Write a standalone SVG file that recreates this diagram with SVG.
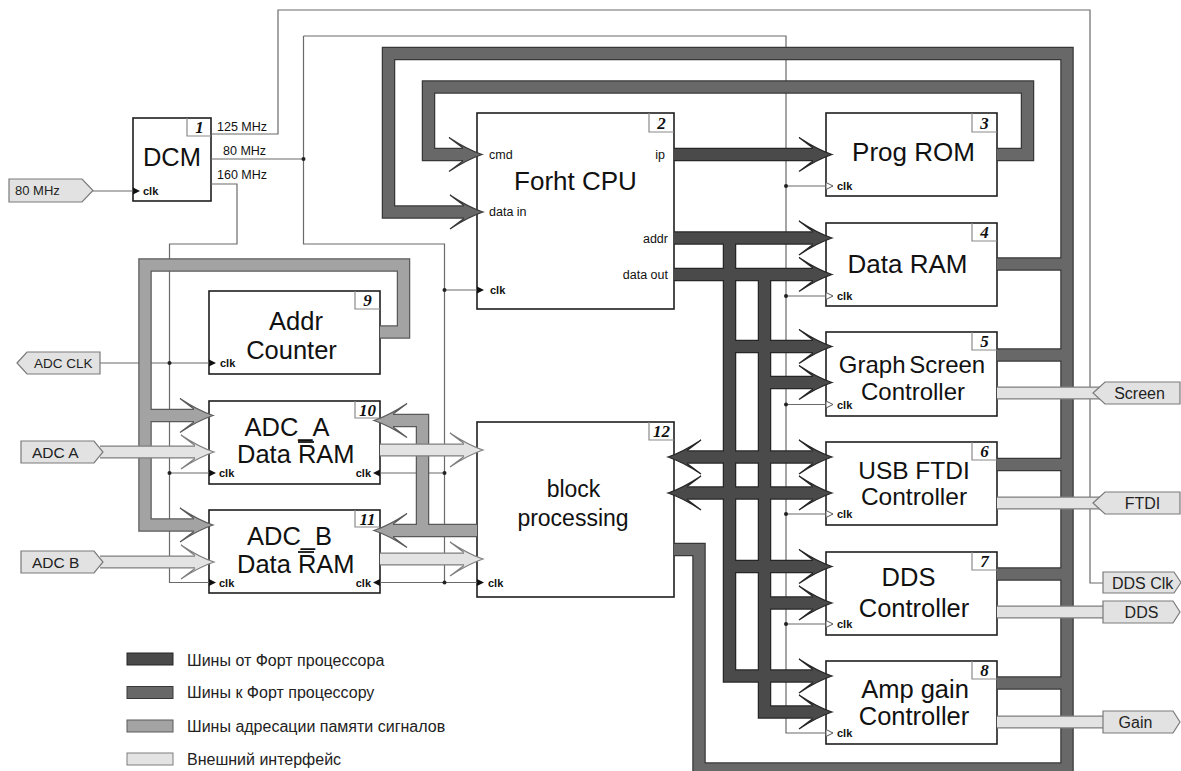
<svg xmlns="http://www.w3.org/2000/svg" width="1181" height="771" viewBox="0 0 1181 771">
<defs>
<path id="ah" d="M-19,-6.6 L-33,-17 Q-15,-5 0,0 Q-15,5 -33,17 L-19,6.6"/>
</defs>
<style>
.box{fill:#fff;stroke:#1e1e1e;stroke-width:1.6}
.nbl{fill:none;stroke:#8a8a8a;stroke-width:1.2}
.num{font-family:"Liberation Serif",serif;font-style:italic;font-weight:bold;font-size:17px;text-anchor:middle;fill:#111}
.big{font-family:"Liberation Sans",Arial,sans-serif;font-size:25.5px;text-anchor:middle;fill:#111}
.mid{font-family:"Liberation Sans",Arial,sans-serif;font-size:24.5px;text-anchor:middle;fill:#111}
.bp{font-family:"Liberation Sans",Arial,sans-serif;font-size:23px;text-anchor:middle;fill:#111}
.sm{font-family:"Liberation Sans",Arial,sans-serif;font-size:12.5px;fill:#111}
.end{text-anchor:end}
.clk{font-family:"Liberation Sans",Arial,sans-serif;font-size:11px;font-weight:bold;fill:#111}
.tag{fill:#e2e2e2;stroke:#7a7a7a;stroke-width:1.2}
.tt{font-family:"Liberation Sans",Arial,sans-serif;font-size:15.5px;fill:#222}
.thin{fill:none;stroke:#6a6a6a;stroke-width:1.2}
.dot{fill:#222}
.tri{fill:#111}
.otri{fill:#fff;stroke:#555;stroke-width:1}
.o1{fill:none;stroke:#262626;stroke-width:13.5}
.f1{fill:none;stroke:#4a4a4a;stroke-width:11}
.a1{fill:#4a4a4a;stroke:#262626;stroke-width:1.3}
.o2{fill:none;stroke:#383838;stroke-width:13.5}
.f2{fill:none;stroke:#686868;stroke-width:11}
.a2{fill:#686868;stroke:#383838;stroke-width:1.3}
.o3{fill:none;stroke:#5a5a5a;stroke-width:13.5}
.f3{fill:none;stroke:#a3a3a3;stroke-width:11}
.a3{fill:#a3a3a3;stroke:#5a5a5a;stroke-width:1.3}
.o4{fill:none;stroke:#7e7e7e;stroke-width:13}
.f4{fill:none;stroke:#e3e3e3;stroke-width:10.6}
.a4{fill:#e3e3e3;stroke:#7e7e7e;stroke-width:1.2}
.lg{font-family:"Liberation Sans",Arial,sans-serif;font-size:16px;fill:#222}
</style>
<rect width="1181" height="771" fill="#fff"/>

<g id="dcm">
<rect class="box" x="133" y="118" width="78" height="83"/>
<path class="nbl" d="M187,118 V136 H211"/>
<text class="num" x="199.5" y="133">1</text>
<text class="big" x="172" y="166">DCM</text>
<polygon class="tri" points="133,187.5 140,191 133,194.5"/>
<text class="clk" x="143" y="195">clk</text>
<text class="sm" x="217" y="130.5">125 MHz</text>
<text class="sm" x="223" y="155">80 MHz</text>
<text class="sm" x="217" y="179">160 MHz</text>
</g>

<g id="cpu">
<rect class="box" x="477" y="113" width="197" height="196"/>
<path class="nbl" d="M649,113 V132 H674"/>
<text class="num" x="661.5" y="129">2</text>
<text class="big" x="575.5" y="190" style="font-size:26px">Forht CPU</text>
<text class="sm" x="489" y="159">cmd</text>
<text class="sm" x="489" y="216">data in</text>
<text class="sm end" x="665" y="159">ip</text>
<text class="sm end" x="668" y="243">addr</text>
<text class="sm end" x="668" y="279">data out</text>
<polygon class="tri" points="477,286.5 484,290 477,293.5"/>
<text class="clk" x="490" y="294">clk</text>
</g>

<g id="progrom">
<rect class="box" x="826" y="113" width="171" height="83"/>
<path class="nbl" d="M972,113 V132 H997"/>
<text class="num" x="984.5" y="129">3</text>
<text class="big" x="913.5" y="161" style="font-size:26px">Prog ROM</text>
<polygon class="otri" points="826,182.5 833,186 826,189.5"/>
<text class="clk" x="837" y="190">clk</text>
</g>

<g id="dataram">
<rect class="box" x="826" y="223" width="171" height="83"/>
<path class="nbl" d="M972,223 V241 H997"/>
<text class="num" x="984.5" y="238">4</text>
<text class="big" x="907.5" y="273" style="font-size:26px">Data RAM</text>
<polygon class="otri" points="826,292.5 833,296 826,299.5"/>
<text class="clk" x="837" y="300">clk</text>
</g>

<g id="graph">
<rect class="box" x="826" y="332" width="171" height="84"/>
<path class="nbl" d="M972,332 V350 H997"/>
<text class="num" x="984.5" y="347">5</text>
<text class="mid" x="912" y="373" style="word-spacing:-3px;font-size:24px">Graph Screen</text>
<text class="mid" x="913" y="400" style="font-size:24px">Controller</text>
<polygon class="otri" points="826,401 833,404.5 826,408"/>
<text class="clk" x="837" y="408.5">clk</text>
</g>

<g id="usb">
<rect class="box" x="826" y="442" width="171" height="83"/>
<path class="nbl" d="M972,442 V460 H997"/>
<text class="num" x="984.5" y="457">6</text>
<text class="mid" x="914" y="479">USB FTDI</text>
<text class="mid" x="914" y="505">Controller</text>
<polygon class="otri" points="826,510.5 833,514 826,517.5"/>
<text class="clk" x="837" y="518">clk</text>
</g>

<g id="dds">
<rect class="box" x="826" y="552" width="171" height="83"/>
<path class="nbl" d="M972,552 V570 H997"/>
<text class="num" x="984.5" y="567">7</text>
<text class="big" x="908.5" y="586">DDS</text>
<text class="big" x="914" y="617">Controller</text>
<polygon class="otri" points="826,620.5 833,624 826,627.5"/>
<text class="clk" x="837" y="628">clk</text>
</g>

<g id="amp">
<rect class="box" x="826" y="661" width="171" height="83"/>
<path class="nbl" d="M972,661 V679 H997"/>
<text class="num" x="984.5" y="676">8</text>
<text class="big" x="915" y="698">Amp gain</text>
<text class="big" x="914" y="725">Controller</text>
<polygon class="otri" points="826,729.5 833,733 826,736.5"/>
<text class="clk" x="837" y="737">clk</text>
</g>

<g id="addrcounter">
<rect class="box" x="209" y="291" width="171" height="83"/>
<path class="nbl" d="M355,291 V309 H380"/>
<text class="num" x="367.5" y="306">9</text>
<text class="big" x="296" y="330">Addr</text>
<text class="big" x="291.5" y="359">Counter</text>
<polygon class="tri" points="209,359.5 216,363 209,366.5"/>
<text class="clk" x="220" y="367">clk</text>
</g>

<g id="adca">
<rect class="box" x="209" y="401" width="171" height="83"/>
<path class="nbl" d="M355,401 V418 H380"/>
<text class="num" x="367.5" y="416">10</text>
<text class="big" x="287" y="436">ADC_A</text>
<text class="big" x="237" y="463" style="text-anchor:start">Data RAM</text>
<line x1="298" y1="442" x2="314" y2="442" stroke="#111" stroke-width="1.8"/>
<polygon class="tri" points="209,469.5 216,473 209,476.5"/>
<text class="clk" x="219" y="477">clk</text>
<polygon class="tri" points="380,469.5 373,473 380,476.5"/>
<text class="clk end" x="371" y="477">clk</text>
</g>

<g id="adcb">
<rect class="box" x="209" y="510" width="171" height="83"/>
<path class="nbl" d="M355,510 V527 H380"/>
<text class="num" x="367.5" y="525">11</text>
<text class="big" x="289.5" y="545">ADC_B</text>
<text class="big" x="237" y="573" style="text-anchor:start">Data RAM</text>
<line x1="298" y1="552" x2="314" y2="552" stroke="#111" stroke-width="1.8"/>
<polygon class="tri" points="209,579 216,582.5 209,586"/>
<text class="clk" x="219" y="586.5">clk</text>
<polygon class="tri" points="380,579 373,582.5 380,586"/>
<text class="clk end" x="371" y="586.5">clk</text>
</g>

<g id="blockproc">
<rect class="box" x="477" y="422" width="197" height="175"/>
<path class="nbl" d="M649,422 V440 H674"/>
<text class="num" x="661.5" y="437">12</text>
<text class="bp" x="573.5" y="497">block</text>
<text class="bp" x="573" y="526">processing</text>
<polygon class="tri" points="477,579 484,582.5 477,586"/>
<text class="clk" x="488" y="586.5">clk</text>
</g>

<g id="connectors">
<path class="thin" d="M211,134 H278 V10 H1090 V583 H1103"/>
<path class="thin" d="M211,159 H303.5 M303.5,36 V244 H444.5 V582.5 H477 M303.5,36 H786 V733 H826 M444.5,290 H477 M444.5,473 H380 M444.5,582.5 H380 M786,186 H826 M786,296 H826 M786,404.5 H826 M786,514 H826 M786,624 H826"/>
<path class="thin" d="M211,184 H237 V244 H169.5 V582.5 H209 M100,363 H209 M169.5,473 H209 M93,191 H133"/>
<g class="dot">
<circle cx="303.5" cy="159" r="2"/><circle cx="444.5" cy="290" r="2"/><circle cx="444.5" cy="473" r="2"/><circle cx="444.5" cy="582.5" r="2"/>
<circle cx="169.5" cy="363" r="2"/><circle cx="169.5" cy="473" r="2"/>
<circle cx="786" cy="186" r="2"/><circle cx="786" cy="296" r="2"/><circle cx="786" cy="404.5" r="2"/><circle cx="786" cy="514" r="2"/><circle cx="786" cy="624" r="2"/>
</g>

<!-- buses to CPU -->
<path class="o2" d="M997,154.5 H1027.5 V87 H428.5 V154.5 H464 M674,549.5 H699 V769 H1067 V53.5 H388.5 V212 H464 M997,264 H1067 M997,355 H1067 M997,464.5 H1067 M997,574 H1067 M997,683 H1067"/>
<path class="f2" d="M997,154.5 H1027.5 V87 H428.5 V154.5 H464 M674,549.5 H699 V769 H1067 V53.5 H388.5 V212 H464 M997,264 H1067 M997,355 H1067 M997,464.5 H1067 M997,574 H1067 M997,683 H1067"/>
<use href="#ah" class="a2" transform="translate(482,154.5)"/>
<use href="#ah" class="a2" transform="translate(483,212)"/>

<!-- buses from CPU -->
<path class="o1" d="M674,154.5 H814 M674,238 H814 M674,274.5 H814 M729.5,238 V676 H814 M764.5,274.5 V712 H814 M729.5,346.5 H814 M764.5,382.5 H814 M686,457 H814 M686,493 H814 M729.5,566.5 H814 M764.5,603 H814"/>
<path class="f1" d="M674,154.5 H814 M674,238 H814 M674,274.5 H814 M729.5,238 V676 H814 M764.5,274.5 V712 H814 M729.5,346.5 H814 M764.5,382.5 H814 M686,457 H814 M686,493 H814 M729.5,566.5 H814 M764.5,603 H814"/>
<use href="#ah" class="a1" transform="translate(832,154.5)"/>
<use href="#ah" class="a1" transform="translate(832,238)"/>
<use href="#ah" class="a1" transform="translate(832,274.5)"/>
<use href="#ah" class="a1" transform="translate(832,346.5)"/>
<use href="#ah" class="a1" transform="translate(832,382.5)"/>
<use href="#ah" class="a1" transform="translate(832,457)"/>
<use href="#ah" class="a1" transform="translate(832,493)"/>
<use href="#ah" class="a1" transform="translate(668,457) rotate(180)"/>
<use href="#ah" class="a1" transform="translate(668,493) rotate(180)"/>
<use href="#ah" class="a1" transform="translate(832,566.5)"/>
<use href="#ah" class="a1" transform="translate(832,603)"/>
<use href="#ah" class="a1" transform="translate(832,676)"/>
<use href="#ah" class="a1" transform="translate(832,712)"/>

<!-- signal memory addressing buses -->
<path class="o3" d="M380,332 H403.5 V265 H145 V525 H195 M145,415.5 H195 M477,530.5 H422.5 V420.5 H392 M422.5,530.5 H392"/>
<path class="f3" d="M380,332 H403.5 V265 H145 V525 H195 M145,415.5 H195 M477,530.5 H422.5 V420.5 H392 M422.5,530.5 H392"/>
<use href="#ah" class="a3" transform="translate(213,415.5)"/>
<use href="#ah" class="a3" transform="translate(213,525)"/>
<use href="#ah" class="a3" transform="translate(374,420.5) rotate(180)"/>
<use href="#ah" class="a3" transform="translate(374,530.5) rotate(180)"/>

<!-- external interface buses -->
<path class="o4" d="M100,452 H195 M100,562 H195 M380,450 H465 M380,559 H465 M997,393 H1100 M997,503 H1100 M997,612 H1106 M997,722 H1106"/>
<path class="f4" d="M100,452 H195 M100,562 H195 M380,450 H465 M380,559 H465 M997,393 H1100 M997,503 H1100 M997,612 H1106 M997,722 H1106"/>
<use href="#ah" class="a4" transform="translate(214,452)"/>
<use href="#ah" class="a4" transform="translate(214,562)"/>
<use href="#ah" class="a4" transform="translate(483,450)"/>
<use href="#ah" class="a4" transform="translate(483,559)"/>
</g>

<g id="tag-80mhz">
<polygon class="tag" points="9,179 82,179 93,190.5 82,202 9,202"/>
<text class="tt" x="15" y="195" style="font-size:13px">80 MHz</text>
</g>
<g id="tag-adcclk">
<polygon class="tag" points="17,363 27,352 100,352 100,374 27,374"/>
<text class="tt" x="34" y="368" style="font-size:13.5px">ADC CLK</text>
</g>
<g id="tag-adca">
<polygon class="tag" points="21,441 94,441 103,452 94,463 21,463"/>
<text class="tt" x="32" y="457.5">ADC A</text>
</g>
<g id="tag-adcb">
<polygon class="tag" points="21,551 94,551 103,562 94,573 21,573"/>
<text class="tt" x="32" y="567.5">ADC B</text>
</g>
<g id="tag-screen">
<polygon class="tag" points="1093,393 1105,382 1180,382 1180,404 1105,404"/>
<text class="tt" x="1139.5" y="398.5" style="text-anchor:middle;font-size:16px">Screen</text>
</g>
<g id="tag-ftdi">
<polygon class="tag" points="1093,503 1105,492 1180,492 1180,514 1105,514"/>
<text class="tt" x="1142.5" y="508.5" style="text-anchor:middle;font-size:16px">FTDI</text>
</g>
<g id="tag-ddsclk">
<polygon class="tag" points="1103,572 1174,572 1181,582.5 1174,593 1103,593"/>
<text class="tt" x="1112" y="588.5" style="font-size:16px">DDS Clk</text>
</g>
<g id="tag-dds">
<polygon class="tag" points="1103,601 1173,601 1180,612 1173,623 1103,623"/>
<text class="tt" x="1141.5" y="617.5" style="text-anchor:middle;font-size:16px">DDS</text>
</g>
<g id="tag-gain">
<polygon class="tag" points="1103,711 1173,711 1180,722 1173,733 1103,733"/>
<text class="tt" x="1135.5" y="727.5" style="text-anchor:middle;font-size:16px">Gain</text>
</g>

<g id="legend">
<rect x="127" y="653" width="46" height="12" fill="#4a4a4a" stroke="#262626"/>
<text class="lg" x="187" y="665.5">Шины от Форт процессора</text>
<rect x="127" y="686.5" width="46" height="12" fill="#686868" stroke="#383838"/>
<text class="lg" x="187" y="698">Шины к Форт процессору</text>
<rect x="127" y="720" width="46" height="12" fill="#a3a3a3" stroke="#5a5a5a"/>
<text class="lg" x="187" y="732">Шины адресации памяти сигналов</text>
<rect x="127" y="753" width="46" height="12" fill="#e3e3e3" stroke="#7e7e7e"/>
<text class="lg" x="187" y="765">Внешний интерфейс</text>
</g>
</svg>
